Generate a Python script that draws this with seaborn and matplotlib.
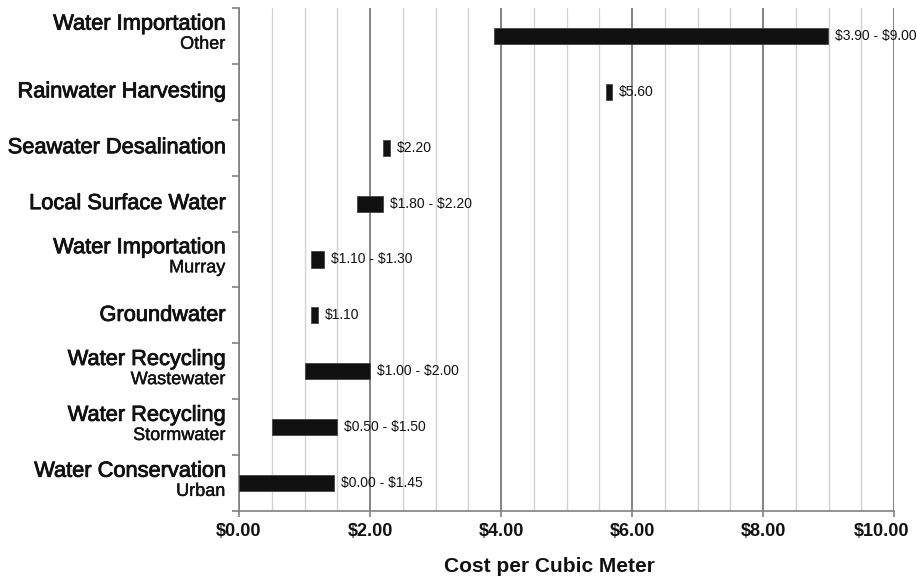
import matplotlib
matplotlib.use("Agg")
import matplotlib.pyplot as plt
import matplotlib.ticker as mticker
import matplotlib.patheffects as pe
import matplotlib.transforms as mtrans
import seaborn as sns
import pandas as pd

# --- données (lecture du graphique)
main_labels = ["Water Importation", "Rainwater Harvesting", "Seawater Desalination",
               "Local Surface Water", "Water Importation", "Groundwater",
               "Water Recycling", "Water Recycling", "Water Conservation"]
sub_labels = ["Other", "", "", "", "Murray", "", "Wastewater", "Stormwater", "Urban"]
low_cost = [3.90, 5.60, 2.20, 1.80, 1.10, 1.10, 1.00, 0.50, 0.00]
high_cost = [9.00, 5.60, 2.20, 2.20, 1.30, 1.10, 2.00, 1.50, 1.45]
x_ticks = [0, 2, 4, 6, 8, 10]

MIN_WIDTH = 0.1   # largeur affichée pour une valeur unique

keys = [m + "|" + s for m, s in zip(main_labels, sub_labels)]
df = pd.DataFrame({"key": keys, "low": low_cost, "high": high_cost})
df["width"] = (df["high"] - df["low"]).clip(lower=MIN_WIDTH)
df["label"] = [f"\\${lo:.2f}" if lo == hi else f"\\${lo:.2f} - \\${hi:.2f}"
               for lo, hi in zip(low_cost, high_cost)]

sns.set_style("white")
plt.rcParams["font.family"] = ["Liberation Sans", "DejaVu Sans"]
thick = [pe.withStroke(linewidth=0.6, foreground="#111111")]

fig = plt.figure(figsize=(9.17, 5.81), dpi=100)
ax = fig.add_axes([239 / 917, 1 - 511 / 581, 655 / 917, 503 / 581])

sns.barplot(data=df, x="width", y="key", order=keys, color="#111111",
            width=0.29, edgecolor="#444444", linewidth=0.6, ax=ax, zorder=3)

# décaler chaque barre pour qu'elle commence à la valeur basse
for patch, lo in zip(ax.patches, df["low"]):
    patch.set_x(lo)

# étiquettes de valeurs
for i, row in df.iterrows():
    ax.annotate(row["label"], xy=(row["low"] + row["width"], i),
                xytext=(5, 0), textcoords="offset points",
                ha="left", va="center", fontsize=10, color="#111111")

# axes
ax.set_xlim(0, 10)
ax.set_ylim(len(keys) - 0.5, -0.5)
ax.xaxis.set_major_locator(mticker.FixedLocator(x_ticks))
ax.xaxis.set_minor_locator(mticker.MultipleLocator(0.5))
ax.xaxis.set_major_formatter(mticker.FuncFormatter(lambda v, p: f"${v:.2f}"))
ax.grid(axis="x", which="minor", color="#d2d2d2", linewidth=1.0)
ax.grid(axis="x", which="major", color="#707070", linewidth=1.2)
ax.set_axisbelow(True)

ax.set_yticks([])
ax.set_yticks([i - 0.5 for i in range(len(keys) + 1)], minor=True)
ax.tick_params(axis="y", which="minor", direction="out", length=5, width=1.2,
               color="#808080", left=True)
ax.tick_params(axis="x", which="major", direction="out", length=4, width=1.2,
               color="#808080", pad=5, bottom=True)
ax.tick_params(axis="x", which="minor", bottom=False)
xlabels = ax.get_xticklabels()
for t in xlabels:
    t.set_fontsize(13)
    t.set_fontweight("bold")
    t.set_color("#111111")
# le dernier libellé est décalé vers la gauche pour rester dans l'image
xlabels[-1].set_transform(xlabels[-1].get_transform() +
                          mtrans.ScaledTranslation(-0.12, 0, fig.dpi_scale_trans))

for side in ["top", "right"]:
    ax.spines[side].set_visible(False)
for side in ["left", "bottom"]:
    ax.spines[side].set_color("#808080")
    ax.spines[side].set_linewidth(1.2)

ax.set_ylabel("")
ax.set_xlabel("Cost per Cubic Meter", fontsize=15, fontweight="bold", color="#111111")
ax.xaxis.set_label_coords(310 / 655, -0.111)
ax.xaxis.label.set_va("center")

# libellés des catégories (titre + sous-titre)
for i, (m, s) in enumerate(zip(main_labels, sub_labels)):
    if s:
        ax.annotate(m, xy=(0, i), xycoords=("axes fraction", "data"),
                    xytext=(-10, 8.5), textcoords="offset points",
                    ha="right", va="center", fontsize=15.7, color="#111111",
                    path_effects=thick)
        ax.annotate(s, xy=(0, i), xycoords=("axes fraction", "data"),
                    xytext=(-10, -6), textcoords="offset points",
                    ha="right", va="center", fontsize=13, color="#111111",
                    path_effects=[pe.withStroke(linewidth=0.3, foreground="#111111")])
    else:
        ax.annotate(m, xy=(0, i), xycoords=("axes fraction", "data"),
                    xytext=(-10, 0), textcoords="offset points",
                    ha="right", va="center", fontsize=15.7, color="#111111",
                    path_effects=thick)

fig.savefig("out.png", dpi=100, facecolor="white")
